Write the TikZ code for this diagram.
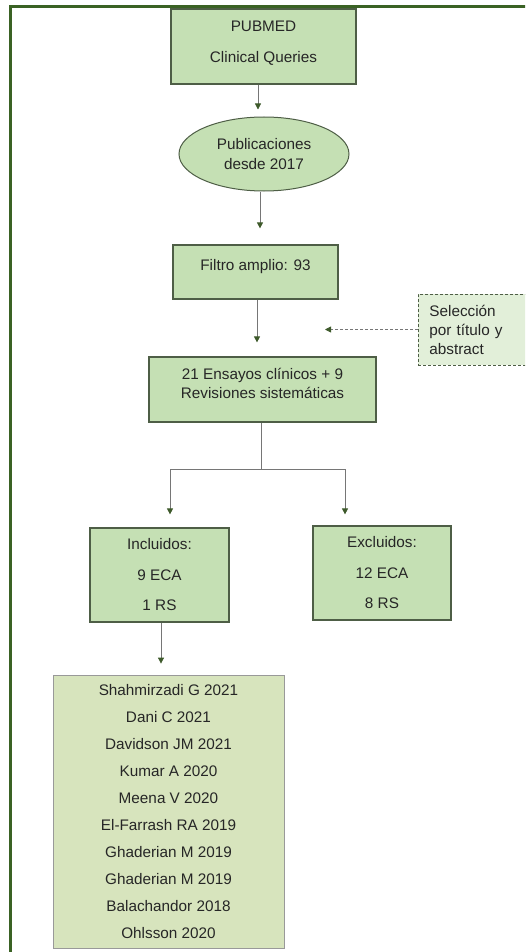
\documentclass[tikz,border=0pt]{standalone}
\usepackage{fontspec}
\setmainfont{Liberation Sans}
\usetikzlibrary{shapes.geometric,arrows.meta}
\definecolor{boxgreen}{RGB}{197,224,180}
\definecolor{notegreen}{RGB}{226,239,217}
\definecolor{listgreen}{RGB}{215,228,189}
\definecolor{boxline}{RGB}{78,94,70}
\definecolor{framegreen}{RGB}{58,98,36}
\definecolor{tipgreen}{RGB}{62,90,43}
\definecolor{linegray}{RGB}{118,118,118}

\begin{document}
\begin{tikzpicture}[x=1pt, y=-1pt, font=\fontsize{15.3}{19}\selectfont, text=black!85,
        box/.style={draw=boxline, line width=1.2pt, fill=boxgreen, align=center, inner sep=0pt},
        oval/.style={ellipse, draw=boxline, line width=1pt, fill=boxgreen, align=center, inner sep=0pt},
        note/.style={draw=boxline, densely dashed, line width=0.8pt, fill=notegreen, align=left, anchor=west, inner xsep=11pt, inner ysep=0pt, text width=105pt},
        list/.style={draw=black!40, line width=0.8pt, fill=listgreen, align=center, inner sep=0pt},
        arrow/.style={draw=linegray, line width=0.8pt, -{Triangle[width=6pt, length=6pt, color=tipgreen]}}]
    \clip (0,0) rectangle (525,952);
    \draw[framegreen, line width=3pt] (10,7) rectangle (560,990);

    \node[box, minimum width=185, minimum height=75, text depth=9pt] (pubmed) at (263.5,46.5) {PUBMED\\[12pt]Clinical Queries};
    \node[oval, minimum width=170, minimum height=74] (oval) at (264,154) {Publicaciones\\[1pt]desde 2017};
    \node[box, minimum width=165, minimum height=54, text depth=15pt] (filtro) at (255.5,272) {Filtro amplio: 93};
    \node[note, minimum height=71] (note) at (418,329.5) {Selección\\por título y\\abstract};
    \node[box, minimum width=227, minimum height=65, text depth=12pt] (ensayos) at (262.5,389.5) {21 Ensayos clínicos + 9\\Revisiones sistemáticas};
    \node[box, minimum width=139, minimum height=94] (incl) at (159.5,575) {Incluidos:\\[11.5pt]9 ECA\\[11.5pt]1 RS};
    \node[box, minimum width=138, minimum height=94] (excl) at (382,573) {Excluidos:\\[11.5pt]12 ECA\\[11.5pt]8 RS};
    \node[list, minimum width=231, minimum height=273] (refs) at (168.5,811.5) {Shahmirzadi G 2021\\[8pt]Dani C 2021\\[8pt]Davidson JM 2021\\[8pt]Kumar A 2020\\[8pt]Meena V 2020\\[8pt]El-Farrash RA 2019\\[8pt]Ghaderian M 2019\\[8pt]Ghaderian M 2019\\[8pt]Balachandor 2018\\[8pt]Ohlsson 2020};

    \coordinate (split) at (261,469);
    \coordinate (notetip) at (325,329.5);

    \draw[arrow, shorten >=7pt] ([xshift=-5.5pt]pubmed.south) -- ([xshift=-6pt]oval.north);
    \draw[arrow, shorten >=16pt] ([xshift=-4pt]oval.south) -- ([xshift=4.5pt]filtro.north);
    \draw[arrow, shorten >=14pt] ([xshift=1.5pt]filtro.south) -- ([xshift=-5.5pt]ensayos.north);
    \draw[arrow, densely dashed] (note.west) -- (notetip);
    \draw[draw=linegray, line width=0.8pt] ([xshift=-1.5pt]ensayos.south) -- (split);
    \draw[arrow, shorten >=13pt] (split) -| ([xshift=10.5pt]incl.north);
    \draw[arrow, shorten >=11pt] (split) -| ([xshift=-37pt]excl.north);
    \draw[arrow, shorten >=11pt] ([xshift=1.5pt]incl.south) -- ([xshift=-7.5pt]refs.north);
\end{tikzpicture}
\end{document}
